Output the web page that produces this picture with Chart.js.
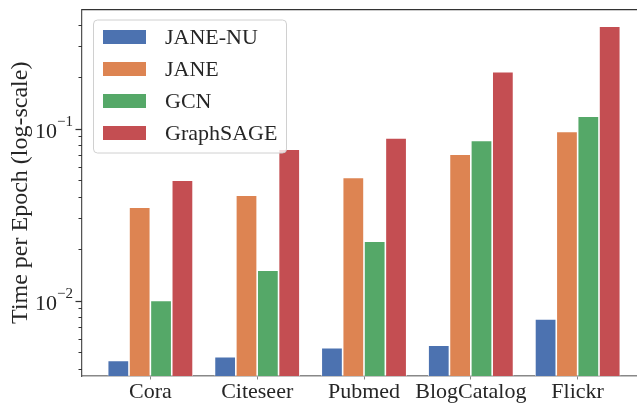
<!DOCTYPE html>
<html>
<head>
<meta charset="utf-8">
<script src="https://cdn.jsdelivr.net/npm/chart.js@4.4.0/dist/chart.umd.min.js"></script>
<style>
  html, body { margin: 0; padding: 0; background: #fff; overflow: hidden; }
  #wrap { position: relative; width: 660px; height: 403px; }
</style>
</head>
<body>
<div id="wrap"><canvas id="grafico-tempo"></canvas></div>
<script>
const categories = ['Cora', 'Citeseer', 'Pubmed', 'BlogCatalog', 'Flickr'];
const janeNU = [0.00448, 0.00472, 0.00532, 0.00549, 0.00782];
const jane = [0.0349, 0.0409, 0.052, 0.0709, 0.096];
const gcn = [0.0100, 0.0150, 0.0221, 0.0851, 0.118];
const graphSage = [0.050, 0.0758, 0.0882, 0.214, 0.393];

const majorTicks = [0.01, 0.1];
const majorExponents = ['\u22122', '\u22121'];
const minorTicks = [0.004, 0.005, 0.006, 0.007, 0.008, 0.009,
  0.02, 0.03, 0.04, 0.05, 0.06, 0.07, 0.08, 0.09, 0.2, 0.3, 0.4];

const FONT = '"Liberation Serif", "Times New Roman", serif';
const TEXT = '#262626';

function pts(arr) {
  return arr.map((v, i) => ({ x: i, y: v }));
}

// ticks do eixo y (maiores e menores) + spine de cima
const axisExtras = {
  id: 'axisExtras',
  afterDraw(chart) {
    const ctx = chart.ctx;
    const y = chart.scales.y;
    const a = chart.chartArea;
    ctx.save();
    ctx.strokeStyle = '#333';
    ctx.lineWidth = 1.25;
    ctx.beginPath();
    ctx.moveTo(a.left, a.top);
    ctx.lineTo(a.right, a.top);
    ctx.stroke();

    ctx.lineWidth = 1;
    minorTicks.forEach(v => {
      const py = Math.round(y.getPixelForValue(v)) + 0.5;
      ctx.beginPath();
      ctx.moveTo(a.left - 3.5, py);
      ctx.lineTo(a.left, py);
      ctx.stroke();
    });
    majorTicks.forEach((v, i) => {
      const py = Math.round(y.getPixelForValue(v)) + 0.5;
      ctx.lineWidth = 1.25;
      ctx.beginPath();
      ctx.moveTo(a.left - 6.5, py);
      ctx.lineTo(a.left, py);
      ctx.stroke();

      ctx.fillStyle = TEXT;
      ctx.textBaseline = 'alphabetic';
      ctx.textAlign = 'left';
      ctx.font = '15px ' + FONT;
      const wExp = ctx.measureText(majorExponents[i]).width;
      ctx.font = '22px ' + FONT;
      const wBase = ctx.measureText('10').width;
      const right = a.left - 9;
      ctx.fillText('10', right - wExp - wBase, py + 8);
      ctx.font = '15px ' + FONT;
      ctx.fillText(majorExponents[i], right - wExp, py - 4);
    });
    ctx.restore();
  }
};

// legenda dentro do gráfico, com moldura
const legendBox = {
  id: 'legendBox',
  afterDatasetsDraw(chart) {
    const ctx = chart.ctx;
    const a = chart.chartArea;
    const x0 = a.left + 11.5, y0 = a.top + 10.5, w = 193, h = 133, r = 4;
    ctx.save();
    ctx.beginPath();
    ctx.roundRect(x0, y0, w, h, r);
    ctx.fillStyle = 'rgba(255,255,255,0.8)';
    ctx.fill();
    ctx.strokeStyle = '#d0d0d0';
    ctx.lineWidth = 1;
    ctx.stroke();
    chart.data.datasets.forEach((ds, i) => {
      const cy = y0 + 17 + i * 32;
      ctx.fillStyle = ds.backgroundColor;
      ctx.fillRect(x0 + 9.5, cy - 7, 43, 14);
      ctx.fillStyle = TEXT;
      ctx.font = '22px ' + FONT;
      ctx.textBaseline = 'middle';
      ctx.textAlign = 'left';
      ctx.fillText(ds.label, x0 + 71.5, cy + 1);
    });
    ctx.restore();
  }
};

const canvas = document.getElementById('grafico-tempo');
new Chart(canvas.getContext('2d'), {
  type: 'bar',
  data: {
    datasets: [
      { label: 'JANE-NU', data: pts(janeNU), backgroundColor: '#4C72B0' },
      { label: 'JANE', data: pts(jane), backgroundColor: '#DD8452' },
      { label: 'GCN', data: pts(gcn), backgroundColor: '#55A868' },
      { label: 'GraphSAGE', data: pts(graphSage), backgroundColor: '#C44E52' }
    ]
  },
  options: {
    responsive: true,
    maintainAspectRatio: false,
    animation: false,
    devicePixelRatio: 1,
    layout: { padding: { top: 9.5, right: 14, left: 0, bottom: 0 } },
    datasets: {
      bar: {
        categoryPercentage: 0.8,
        barPercentage: 1.0,
        borderColor: 'rgba(255,255,255,0.9)',
        borderWidth: 0.8
      }
    },
    plugins: {
      legend: { display: false },
      tooltip: { enabled: false }
    },
    scales: {
      x: {
        type: 'linear',
        min: -0.64,
        max: 4.64,
        offset: false,
        z: 1,
        afterBuildTicks: scale => {
          scale.ticks = categories.map((c, i) => ({ value: i }));
        },
        afterFit: scale => { scale.height = 27; },
        ticks: {
          autoSkip: false,
          maxRotation: 0,
          padding: 0,
          color: TEXT,
          font: { family: FONT, size: 22 },
          callback: value => categories[value]
        },
        grid: {
          offset: false,
          drawOnChartArea: false,
          tickLength: 3.5,
          tickColor: '#888'
        },
        border: { display: true, color: '#888', width: 1.5 }
      },
      y: {
        type: 'logarithmic',
        min: 0.00364,
        max: 0.492,
        afterFit: scale => { scale.width = 82; },
        ticks: { display: false },
        grid: { display: false },
        border: { display: true, color: '#555', width: 1.25 },
        title: {
          display: true,
          text: 'Time per Epoch (log-scale)',
          color: TEXT,
          font: { family: FONT, size: 24 },
          padding: { top: 6, bottom: 0 }
        }
      }
    }
  },
  plugins: [legendBox, axisExtras]
});
</script>
</body>
</html>
